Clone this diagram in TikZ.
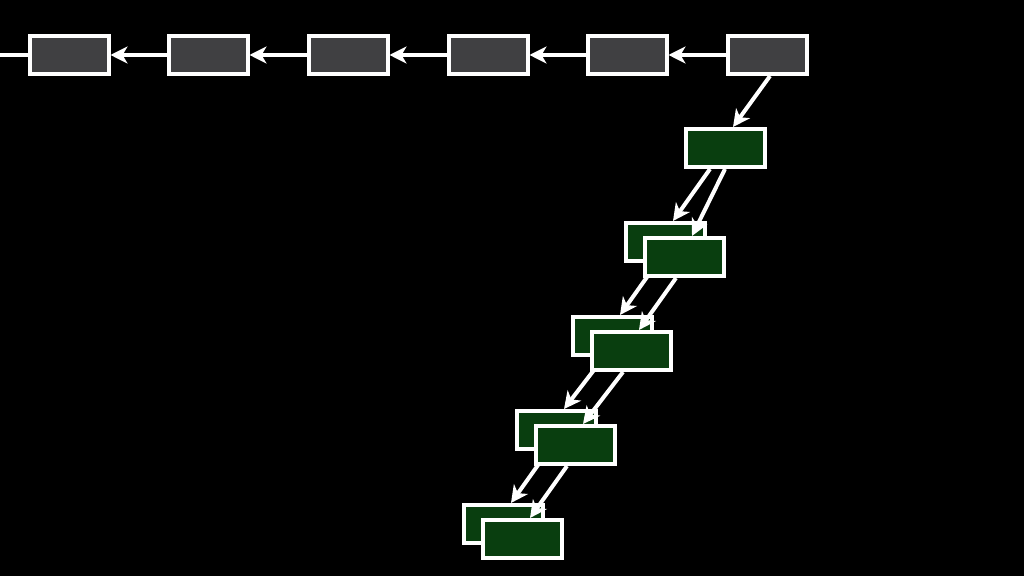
\documentclass[tikz,border=0pt]{standalone}
\usetikzlibrary{arrows.meta,positioning,calc}
\pgfdeclarelayer{bg}
\pgfdeclarelayer{back}
\pgfdeclarelayer{mid}
\pgfsetlayers{bg,back,mid,main}
\definecolor{boxgray}{RGB}{64,64,66}
\definecolor{boxgreen}{RGB}{9,62,15}
\begin{document}
\begin{tikzpicture}[x=0.5pt,y=-0.5pt]
\tikzset{blk/.style={draw=white,line width=2pt,minimum width=39.5pt,minimum height=19pt,inner sep=0pt}}
\tikzset{wire/.style={draw=white,line width=2pt}}
\tikzset{link/.style={wire,-{Stealth[length=8.5pt,width=8.5pt,inset=2.5pt]}}}
\useasboundingbox (0,0) rectangle (1024,576);
\begin{pgfonlayer}{bg}
\fill[black] (-4,-4) rectangle (1028,580);
\end{pgfonlayer}
% history chain
\foreach \i/\x in {1/69,2/208,3/348,4/488,5/627,6/767}
  \node[blk,fill=boxgray] (c\i) at (\x,55) {};
\coordinate (tail) at (-2,55);
\draw[wire] (c1) -- (tail);
\foreach \i [evaluate=\i as \j using int(\i-1)] in {2,...,6}
  \draw[link] (c\i) -- (c\j);
% branch
\node[blk,fill=boxgreen] (g0) at (725,148) {};
\begin{pgfonlayer}{back}
\foreach \k/\x/\y in {1/665/242,2/612/336,3/556/430,4/503/524}
  \node[blk,fill=boxgreen] (A\k) at (\x,\y) {};
\end{pgfonlayer}
\foreach \k in {1,...,4}
  \node[blk,fill=boxgreen] (B\k) at ($(A\k)+(19,15)$) {};
\begin{pgfonlayer}{mid}
\draw[link] ($(c6.south)+(3,0)$) -- ($(g0.north)+(8,0)$);
\draw[link] ($(g0.south)+(-15,0)$) -- ($(A1.north)+(8,0)$);
\draw[link] (g0.south) -- ($(B1.north)+(8,0)$);
\foreach \k [evaluate=\k as \n using int(\k+1)] in {1,2,3} {
  \draw[link] ($(A\k.south)+(-8,0)$) -- ($(A\n.north)+(8,0)$);
  \draw[link] ($(B\k.south)+(-8,0)$) -- ($(B\n.north)+(8,0)$);
}
\end{pgfonlayer}
\end{tikzpicture}
\end{document}
